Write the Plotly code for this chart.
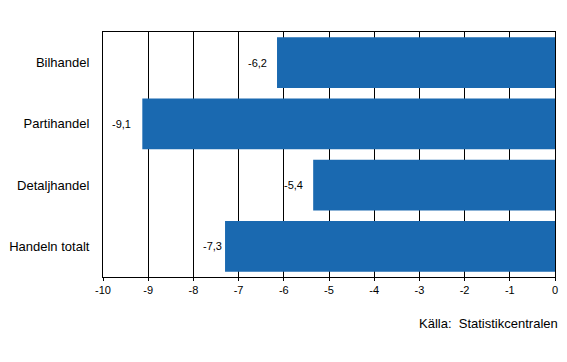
import plotly.graph_objects as go

categories = ["Bilhandel", "Partihandel", "Detaljhandel", "Handeln totalt"]
values = [-6.15, -9.13, -5.35, -7.3]
value_labels = ["-6,2", "-9,1", "-5,4", "-7,3"]
tick_vals = [-10, -9, -8, -7, -6, -5, -4, -3, -2, -1, 0]
source_text = "Källa:  Statistikcentralen"

# label offsets (pixels, style only)
label_shift = [-8, -9, -8, -1]

fig = go.Figure()
fig.add_trace(go.Bar(
    x=values, y=categories, orientation="h",
    marker=dict(color="#1a69b0", line=dict(width=0)),
    width=0.83,
    hoverinfo="skip",
))

for c, v, t, s in zip(categories, values, value_labels, label_shift):
    fig.add_annotation(x=v, y=c, xref="x", yref="y", text=t, showarrow=False,
                       xanchor="right", xshift=s,
                       font=dict(family="Liberation Sans, Arial", size=11, color="black"))

plot_w = 567 - 103 - 12
plot_h = 362 - 32 - 85
fig.add_annotation(x=(560 - 103) / plot_w, y=(362 - 85 - 323) / plot_h,
                   xref="paper", yref="paper", text=source_text,
                   showarrow=False, xanchor="right", yanchor="middle",
                   font=dict(family="Liberation Sans, Arial", size=13, color="black"))

fig.update_layout(
    width=567, height=362,
    margin=dict(l=103, r=12, t=32, b=85, autoexpand=False),
    paper_bgcolor="white", plot_bgcolor="white",
    showlegend=False,
    font=dict(family="Liberation Sans, Arial", size=12, color="black"),
    xaxis=dict(range=[-10, 0], tickvals=tick_vals,
               ticktext=[str(t) for t in tick_vals],
               showgrid=True, gridcolor="black", gridwidth=1,
               showline=True, linecolor="black", linewidth=1, mirror=True,
               ticks="outside", ticklen=3, tickcolor="black",
               tickfont=dict(size=11), zeroline=False, fixedrange=True),
    yaxis=dict(categoryorder="array", categoryarray=categories[::-1],
               range=[-0.5, 3.5],
               showgrid=False, showline=True, linecolor="black", linewidth=1, mirror=True,
               ticks="", ticklabelstandoff=10, tickfont=dict(size=13),
               zeroline=False, fixedrange=True),
)

fig.write_html("out.html")
